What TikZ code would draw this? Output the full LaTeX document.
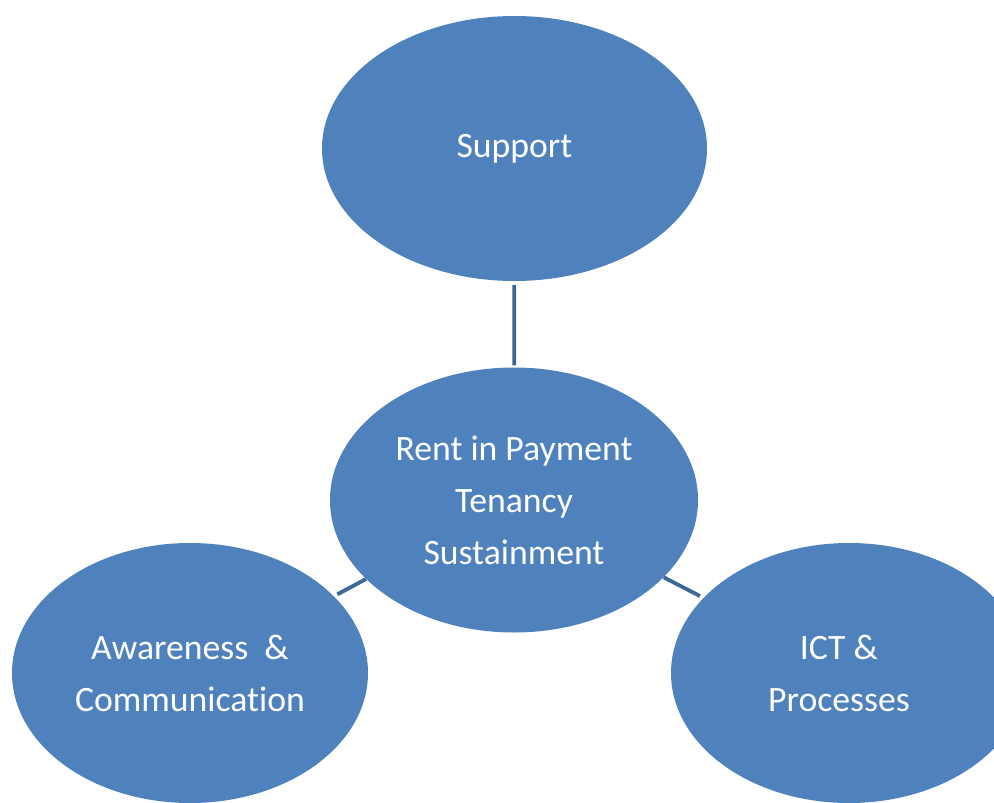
\documentclass[tikz,border=0pt]{standalone}
\usepackage{fontspec}
\setmainfont{Carlito}[Ligatures={NoCommon}]
\usetikzlibrary{shapes.geometric}
\definecolor{bubble}{HTML}{4F81BD}
\definecolor{linkblue}{HTML}{3D6794}
\begin{document}
\begin{tikzpicture}[x=1pt,y=-1pt,
  bubble/.style={ellipse,fill=bubble,draw=none,inner sep=0pt,text=white,
    align=center,font=\fontsize{35.7}{52}\selectfont},
  caption/.style={text=white,align=center,inner sep=0pt,
    font=\fontsize{35.7}{52}\selectfont},
  link/.style={draw=linkblue,line width=3.8pt}]
  \useasboundingbox (0,0) rectangle (994,803);
  \clip (0,0) rectangle (994,803);
  \fill[white] (0,0) rectangle (994,803);

  % the four topic bubbles
  \node[bubble,minimum width=385pt,minimum height=265pt] (support) at (514.5,148.5) {Support};
  \node[bubble,minimum width=368pt,minimum height=265pt] (core) at (514,500)
    {Rent in Payment\\Tenancy\\Sustainment};
  \node[bubble,minimum width=356pt,minimum height=260pt] (aware) at (190,673)
    {Awareness\ \ \&\\Communication};
  \node[bubble,minimum width=356pt,minimum height=260pt] (ict) at (849,673) {};
  \node[caption] (ictlabel) at ([xshift=-10pt]ict.center) {ICT \&\\Processes};

  % short links from the centre bubble
  \draw[link,shorten <=4pt,shorten >=2pt] (support) -- (core);
  \draw[link,shorten >=4pt] (core) -- (aware);
  \draw[link,shorten >=4pt] (core) -- (ict);
\end{tikzpicture}
\end{document}
